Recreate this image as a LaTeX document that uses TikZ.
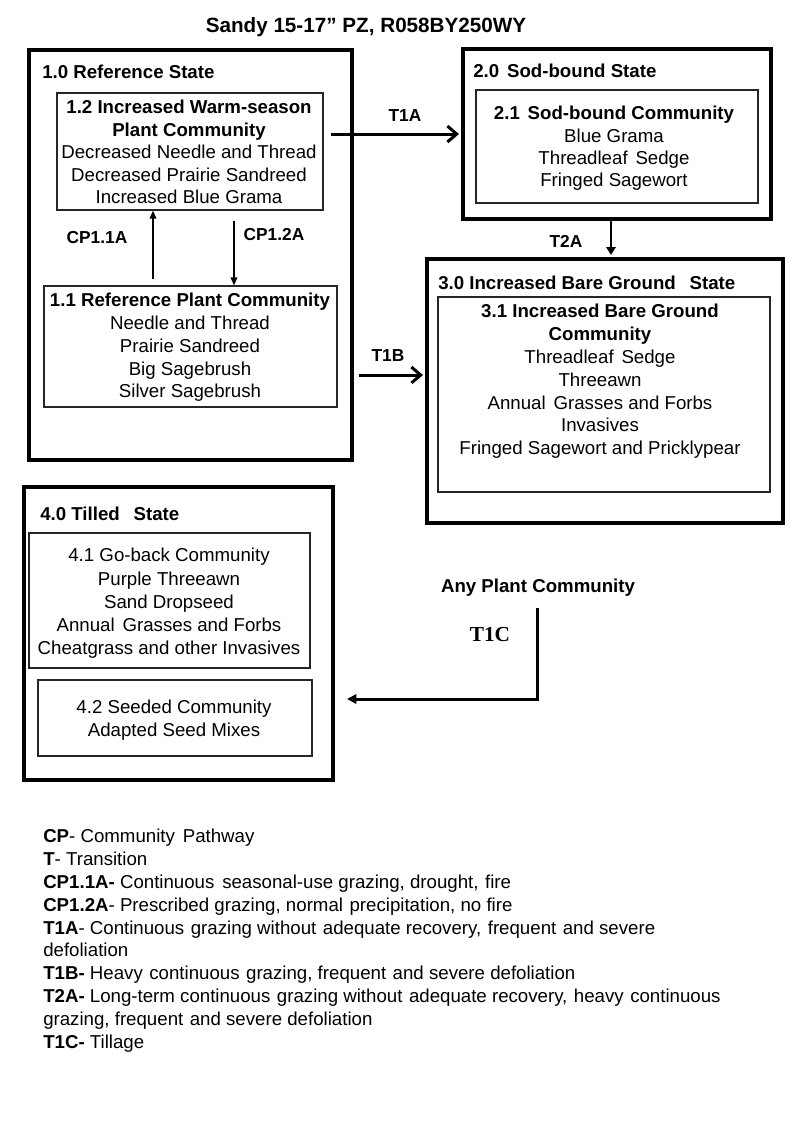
\documentclass[tikz,border=0pt]{standalone}
\usepackage{fontspec}
\setmainfont{Liberation Sans}
\newfontfamily\tcserif{Liberation Serif}
\usetikzlibrary{arrows.meta,fit,calc}
\begin{document}
\begin{tikzpicture}[x=0.75pt,y=-0.75pt,
  statebox/.style={draw=black, line width=3pt, inner sep=0pt},
  commbox/.style={draw=black!85, line width=0.9pt, inner sep=0pt},
  bodytext/.style={font=\fontsize{14}{#1}\selectfont, align=center, inner sep=0pt, anchor=north},
  bodytext/.default=16.9pt,
  statelabel/.style={font=\bfseries\fontsize{14}{16.9}\selectfont, inner sep=0pt, anchor=base west},
  pathlabel/.style={font=\bfseries\fontsize{13}{15}\selectfont, inner sep=0pt, anchor=base},
  tarrow/.style={line width=2.25pt, -{Straight Barb[length=7pt,width=12pt]}, shorten >=1.5pt},
  ttarrow/.style={line width=1.5pt, -{Triangle[length=6pt,width=7pt]}, shorten >=1.5pt},
  cparrow/.style={line width=1pt, -{Triangle[length=6pt,width=5pt]}},
  tcarrow/.style={line width=2.25pt, -{Triangle[length=7pt,width=7pt]}}
]
\path[use as bounding box, fill=white] (0,0) rectangle (800,1143);

% title
\node[font=\bfseries\fontsize{15.5}{18}\selectfont, inner sep=0pt, anchor=base] (title) at (366,32) {Sandy 15-17” PZ, R058BY250WY};

% state boxes
\node[statebox, fit={(29,50) (352,460)}] (b10) {};
\node[statebox, fit={(463,49) (771,219)}] (b20) {};
\node[statebox, fit={(427,259) (783,523)}] (b30) {};
\node[statebox, fit={(24,487) (333,780)}] (b40) {};

% community boxes
\node[commbox, fit={(57,93) (323,210)}] (b12) {};
\node[commbox, fit={(44,286) (337,407)}] (b11) {};
\node[commbox, fit={(476,90) (758,203)}] (b21) {};
\node[commbox, fit={(438,297) (770,492)}] (b31) {};
\node[commbox, fit={(29,533) (310,668)}] (b41) {};
\node[commbox, fit={(38,680) (312,756)}] (b42) {};

% state labels
\node[statelabel] (l10) at (42,78) {1.0 Reference State};
\node[statelabel] (l20) at (473,77) {2.0\hspace{2pt} Sod-bound State};
\node[statelabel] (l30) at (438,289) {3.0 Increased Bare Ground\hspace{6.5pt} State};
\node[statelabel] (l40) at (40,520) {4.0 Tilled\hspace{6.5pt} State};

% community texts
\node[bodytext] (t12) at (189,100) {\textbf{1.2 Increased Warm-season}\\\textbf{Plant Community}\\Decreased Needle and Thread\\Decreased Prairie Sandreed\\Increased Blue Grama};
\node[bodytext=17.05pt] (t11) at (190,293) {\textbf{1.1 Reference Plant Community}\\Needle and Thread\\Prairie Sandreed\\Big Sagebrush\\Silver Sagebrush};
\node[bodytext=16.8pt] (t21) at (614,106) {\textbf{2.1\hspace{2pt} Sod-bound Community}\\Blue Grama\\Threadleaf\hspace{2pt} Sedge\\Fringed Sagewort};
\node[bodytext=17.1pt] (t31) at (600,304) {\textbf{3.1 Increased Bare Ground}\\\textbf{Community}\\Threadleaf\hspace{2pt} Sedge\\Threeawn\\Annual\hspace{2pt} Grasses and Forbs\\Invasives\\Fringed Sagewort and Pricklypear};
\node[bodytext=17.4pt] (t41) at (169,548) {4.1 Go-back Community\\Purple Threeawn\\Sand Dropseed\\Annual\hspace{2pt} Grasses and Forbs\\Cheatgrass and other Invasives};
\node[bodytext=16.8pt] (t42) at (174,700) {4.2 Seeded Community\\Adapted Seed Mixes};

% community pathways
\coordinate (cpx1) at (153,0);
\coordinate (cpx2) at (234,0);
\draw[cparrow] ($(b11.north -| cpx1)+(0,-6)$) -- (b12.south -| cpx1);
\draw[cparrow] ($(b12.south -| cpx2)+(0,10)$) -- (b11.north -| cpx2);
\node[pathlabel] (cp11) at (97,243) {CP1.1A};
\node[pathlabel] (cp12) at (274,240) {CP1.2A};

% transitions
\draw[tarrow] ($(b12.east |- b20.west)+(7,0)$) -- (b20.west);
\node[pathlabel] (lt1a) at (405,121) {T1A};

\coordinate (t1by) at (0,375);
\draw[tarrow] ($(b10.east |- t1by)+(5,0)$) -- (b30.west |- t1by);
\node[pathlabel] (lt1b) at (388,361) {T1B};

\coordinate (t2ax) at (611,0);
\draw[ttarrow] (b20.south -| t2ax) -- (b30.north -| t2ax);
\node[pathlabel] (lt2a) at (566,247) {T2A};

% any plant community / T1C
\node[font=\bfseries\fontsize{14}{16.9}\selectfont, inner sep=0pt, anchor=base] (apc) at (538,592) {Any Plant Community};
\node[font=\tcserif\bfseries\fontsize{16}{18}\selectfont, inner sep=0pt, anchor=base] (lt1c) at (490,641) {T1C};
\coordinate (t1cx) at (537,0);
\coordinate (t1cy) at (0,699);
\draw[tcarrow] ($(apc.south -| t1cx)+(0,12)$) -- (t1cx |- t1cy) -- ($(b40.east |- t1cy)+(12,0)$);

% legend
\node[font=\fontsize{14}{17.1}\selectfont, align=left, inner sep=0pt, anchor=north west] (legend) at (43,829) {%
\textbf{CP}- Community\hspace{2pt} Pathway\\
\textbf{T}- Transition\\
\textbf{CP1.1A-} Continuous\hspace{2pt} seasonal-use grazing, drought,\hspace{1pt} fire\\
\textbf{CP1.2A}- Prescribed grazing, normal\hspace{1pt} precipitation, no fire\\
\textbf{T1A}- Continuous\hspace{1pt} grazing without\hspace{1pt} adequate recovery,\hspace{1pt} frequent\hspace{1pt} and severe\\
defoliation\\
\textbf{T1B-} Heavy\hspace{1pt} continuous\hspace{1pt} grazing, frequent\hspace{1pt} and severe defoliation\\
\textbf{T2A-} Long-term continuous\hspace{1pt} grazing without\hspace{1pt} adequate recovery,\hspace{1pt} heavy\hspace{1pt} continuous\\
grazing, frequent\hspace{1pt} and severe defoliation\\
\textbf{T1C-} Tillage};
\end{tikzpicture}
\end{document}
